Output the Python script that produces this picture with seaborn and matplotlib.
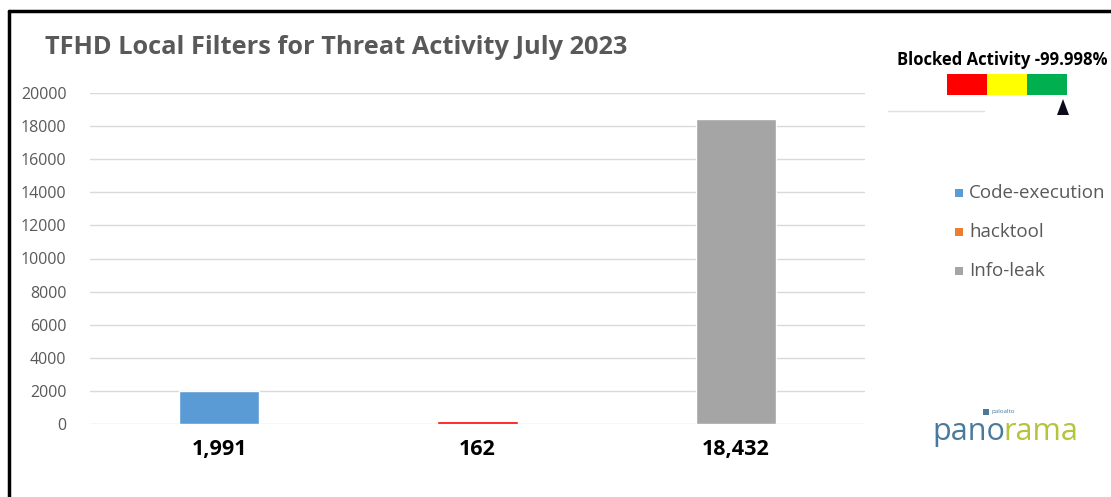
import matplotlib
matplotlib.use("Agg")
import matplotlib.pyplot as plt
import seaborn as sns
import pandas as pd
from matplotlib.patches import Rectangle, Polygon
from matplotlib.lines import Line2D

categories = ["Code-execution", "hacktool", "Info-leak"]
values = [1991, 162, 18432]
value_labels = ["1,991", "162", "18,432"]
bar_colors = ["#5b9bd5", "#ff0000", "#a5a5a5"]
legend_colors = ["#5b9bd5", "#ed7d31", "#a5a5a5"]
yticks = [0, 2000, 4000, 6000, 8000, 10000, 12000, 14000, 16000, 18000, 20000]
title = "TFHD Local Filters for Threat Activity July 2023"
blocked_text = "Blocked Activity -99.998%"

sns.set_theme(style="white")
plt.rcParams["font.family"] = ["Open Sans", "DejaVu Sans"]

W, H = 1111, 497
fig = plt.figure(figsize=(W / 100, H / 100), dpi=100)
fig.patch.set_facecolor("white")

def fx(px):
    return px / W

def fy(py):
    return 1 - py / H

ax = fig.add_axes([fx(90), fy(424), fx(865) - fx(90), fy(93) - fy(424)])
df = pd.DataFrame({"cat": categories, "val": values})
sns.barplot(data=df, x="cat", y="val", hue="cat", palette=dict(zip(categories, bar_colors)),
            width=0.31, legend=False, ax=ax, saturation=1)
ax.set_ylim(0, 20000)
ax.set_xlim(-0.5, 2.5)
ax.set_yticks(yticks)
ax.set_yticklabels([str(v) for v in yticks], color="#595959", fontsize=11.5)
ax.yaxis.grid(True, color="#d9d9d9", linewidth=1)
ax.set_axisbelow(True)
ax.set_xticks(range(len(categories)))
ax.set_xticklabels(value_labels, fontsize=15.5, fontweight="bold", color="black")
ax.tick_params(axis="x", length=0, pad=11)
ax.tick_params(axis="y", length=0, pad=17)
ax.set_xlabel("")
ax.set_ylabel("")
for s in ax.spines.values():
    s.set_visible(False)

# title
fig.text(fx(45), fy(48), title, fontsize=18.3, fontweight="bold", color="#595959",
         va="center", ha="left")

# frame
fig.add_artist(Line2D([fx(9), fx(9)], [fy(11), fy(497)], color="black", lw=2.5))
fig.add_artist(Line2D([fx(9), 1.0], [fy(11), fy(11)], color="black", lw=2.5))

# blocked activity indicator
fig.text(fx(897), fy(60), blocked_text, fontsize=12, fontweight="bold", color="black",
         va="center", ha="left")
for i, c in enumerate(["#ff0000", "#ffff00", "#00b050"]):
    fig.add_artist(Rectangle((fx(947 + 40 * i), fy(95)), fx(40), fy(74) - fy(95),
                             transform=fig.transFigure, facecolor=c, edgecolor="none"))
fig.add_artist(Polygon([[fx(1057), fy(115)], [fx(1069), fy(115)], [fx(1063), fy(99)]],
                       closed=True, transform=fig.transFigure, facecolor="#0b0b1e",
                       edgecolor="none"))
fig.add_artist(Line2D([fx(888), fx(984)], [fy(111), fy(111)], color="#e0e0e0", lw=1))

# legend
for i, (cat, col) in enumerate(zip(categories, legend_colors)):
    y = 193 + 39 * i
    fig.add_artist(Rectangle((fx(955), fy(y + 4)), fx(8), fy(y - 4) - fy(y + 4),
                             transform=fig.transFigure, facecolor=col, edgecolor="none"))
    fig.text(fx(969), fy(y), cat, fontsize=13.5, color="#595959", va="center", ha="left")

# panorama logo
fig.text(fx(991), fy(412), "paloalto", fontsize=4.5, color="#4a7a9b", ha="left", va="center")
fig.add_artist(Rectangle((fx(983), fy(415)), fx(6), fy(409) - fy(415),
                         transform=fig.transFigure, facecolor="#4a7a9b", edgecolor="none"))
fig.text(fx(932), fy(432), "pano", fontsize=22, color="#4a7a9b", ha="left", va="center")
fig.text(fx(1003), fy(432), "rama", fontsize=22, color="#b5c43a", ha="left", va="center")

fig.savefig("out.png", dpi=100, facecolor="white")
